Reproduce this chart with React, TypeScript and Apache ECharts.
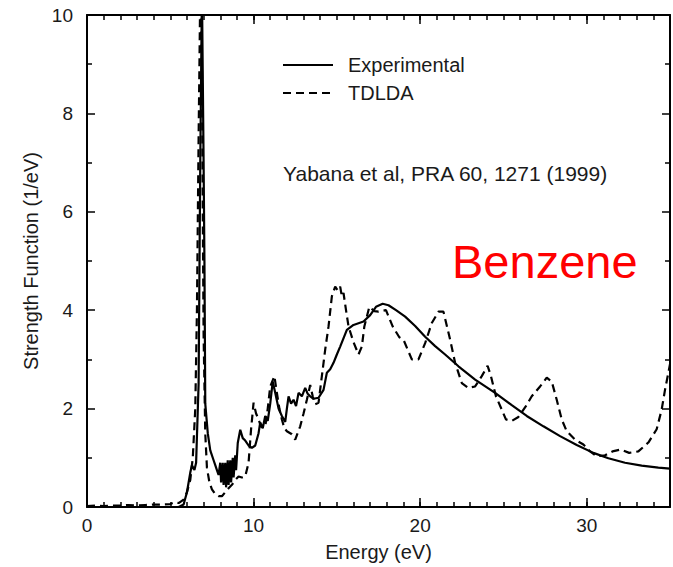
import React, { useEffect, useRef } from "react";
import * as echarts from "echarts";

// Experimental strength function (energy in eV, value in 1/eV)
const expEnergy = [
  0, 5.5, 5.8, 6.0, 6.2, 6.3, 6.45, 6.55, 6.7, 6.8, 6.9, 7.0, 7.05, 7.1, 7.25, 7.4, 7.6,
  7.7, 7.8, 7.9, 8.0, 8.05, 8.15, 8.2, 8.3, 8.35, 8.45, 8.5, 8.6, 8.65, 8.75, 8.8, 8.9,
  8.95, 9.05, 9.2, 9.35, 9.5, 9.7,
  9.9, 10.1, 10.3, 10.4, 10.55, 10.7, 10.85, 11.0, 11.15, 11.3, 11.5, 11.7, 11.9, 12.0,
  12.1, 12.25, 12.4, 12.55, 12.7, 12.9, 13.1, 13.25, 13.4, 13.6, 13.9, 14.2, 14.4, 14.6,
  14.8, 15.0, 15.2, 15.6, 16.0, 16.6, 17.0, 17.35, 17.75, 18.1, 18.55, 19.1, 19.7, 20.3,
  20.9, 21.5, 22.3, 23.3, 24.5, 25.5, 26.4, 27.4, 28.4, 29.4, 30.4, 31.3, 32.3, 33.3,
  34.3, 35,
];
const expValue = [
  0, 0, 0.05, 0.3, 0.7, 0.85, 0.75, 0.9, 2.5, 7, 10.5, 7, 5, 2.1, 1.5, 1.15, 0.95,
  0.85, 0.75, 0.65, 0.9, 0.5, 0.9, 0.45, 0.9, 0.4, 0.95, 0.45, 0.95, 0.5, 1.0, 0.6, 1.05,
  0.75, 1.3, 1.57, 1.4, 1.35, 1.25,
  1.2, 1.25, 1.5, 1.72, 1.6, 1.85, 1.75, 2.1, 2.55, 2.32, 2.0, 1.85, 1.73, 2.0,
  2.25, 2.1, 2.18, 2.05, 2.32, 2.25, 2.42, 2.3, 2.25, 2.2, 2.22, 2.38, 2.73, 2.8,
  2.93, 3.1, 3.26, 3.6, 3.7, 3.77, 3.9, 4.07, 4.13, 4.1, 4.0, 3.87, 3.68, 3.46,
  3.27, 3.1, 2.86, 2.59, 2.32, 2.07, 1.85, 1.64, 1.44, 1.26, 1.1, 0.99, 0.9, 0.84,
  0.8, 0.78,
];

// TDLDA calculation
const tdldaEnergy = [
  0, 0.5, 1, 1.5, 2, 2.5, 3, 3.5, 4, 4.5, 5, 5.3, 5.5, 5.8, 6.0, 6.2, 6.35, 6.5, 6.6,
  6.7, 6.8, 6.9, 6.95, 7.0, 7.1, 7.2, 7.35, 7.5, 7.7, 7.9, 8.1, 8.3, 8.5, 8.7, 8.9, 9.1,
  9.3, 9.5, 9.7, 9.85, 10.0, 10.15, 10.3, 10.45, 10.7, 10.85, 11.0, 11.25, 11.4, 11.55,
  11.7, 11.85, 12.0, 12.3, 12.5, 12.8, 13.0, 13.2, 13.4, 13.55, 13.7, 13.9, 14.1, 14.3,
  14.5, 14.7, 14.9, 15.05, 15.2, 15.3, 15.4, 15.55, 15.7, 16.0, 16.3, 16.5, 16.65, 16.95,
  17.25, 17.5, 17.95, 18.35, 18.75, 19.0, 19.5, 19.9, 20.3, 20.7, 21.1, 21.4, 21.8, 22.1,
  22.5, 22.9, 23.3, 23.7, 24.05, 24.25, 24.55, 24.9, 25.15, 25.5, 25.9, 26.35, 26.7, 27.2,
  27.6, 27.9, 28.2, 28.5, 28.8, 29.3, 29.8, 30.2, 30.6, 31.1, 31.55, 32.05, 32.55, 33.1,
  33.7, 34.2, 34.5, 34.7, 35,
];
const tdldaValue = [
  0.02, 0.03, 0.02, 0.03, 0.03, 0.04, 0.03, 0.04, 0.05, 0.05, 0.06, 0.1, 0.08, 0.15, 0.3,
  0.55, 1.0, 2.0, 4, 7.5, 10.5, 9, 6, 3.5, 1.5, 0.8, 0.5, 0.36, 0.26, 0.22, 0.22, 0.3,
  0.38, 0.45, 0.55, 0.62, 0.6, 0.62, 0.9, 1.58, 2.12, 1.9, 1.78, 1.63, 1.63, 2.0, 2.45,
  2.66, 2.32, 2.0, 1.78, 1.6, 1.54, 1.48, 1.37, 1.64, 1.9, 2.18, 2.48, 2.25, 2.09, 2.12,
  2.66, 3.2, 3.67, 4.28, 4.48, 4.4, 4.48, 4.28, 4.35, 4.0, 3.67, 3.35, 3.1, 3.26, 3.67,
  4.07, 3.98, 3.97, 4.0, 3.67, 3.45, 3.4, 3.0, 3.0, 3.33, 3.74, 3.97, 3.97, 3.4, 2.93,
  2.52, 2.42, 2.45, 2.66, 2.87, 2.66, 2.25, 1.98, 1.78, 1.75, 1.83, 2.05, 2.25, 2.45,
  2.63, 2.55, 2.18, 1.78, 1.54, 1.37, 1.27, 1.13, 1.03, 1.05, 1.13, 1.17, 1.1, 1.13,
  1.31, 1.58, 1.98, 2.38, 2.9,
];

const xMin = 0;
const xMax = 35;
const yMin = 0;
const yMax = 10;
const seriesNames = ["Experimental", "TDLDA"];
const xTitle = "Energy (eV)";
const yTitle = "Strength Function (1/eV)";
const citation = "Yabana et al, PRA 60, 1271 (1999)";
const molecule = "Benzene";

const FONT = '"Liberation Sans", Arial, Helvetica, sans-serif';
const INK = "#1a1a1a";

export default function App() {
  const ref = useRef<HTMLDivElement>(null);

  useEffect(() => {
    if (!ref.current) return;
    const chart = echarts.init(ref.current, null, { renderer: "svg" });

    const expData = expEnergy.map((e, i) => [e, expValue[i]]);
    const tdData = tdldaEnergy.map((e, i) => [e, tdldaValue[i]]);

    const baseX = {
      type: "value" as const,
      min: xMin,
      max: xMax,
      splitLine: { show: false },
    };
    const baseY = {
      type: "value" as const,
      min: yMin,
      max: yMax,
      interval: 2,
      splitLine: { show: false },
    };
    const lineStyle = { color: "#000", width: 2 };

    chart.setOption({
      animation: false,
      backgroundColor: "#fff",
      textStyle: { fontFamily: FONT },
      grid: { left: 87, right: -4, top: 15, bottom: 59, containLabel: false },
      legend: {
        show: true,
        data: seriesNames,
        orient: "vertical",
        left: 282,
        top: 55,
        padding: 0,
        itemWidth: 50,
        itemHeight: 14,
        itemGap: 8,
        selectedMode: false,
        itemStyle: { opacity: 0 },
        textStyle: { fontSize: 20, color: INK, fontFamily: FONT, padding: [0, 0, 0, 10] },
      },
      xAxis: [
        {
          ...baseX,
          position: "bottom",
          interval: 10,
          axisLine: { show: true, onZero: false, lineStyle },
          axisTick: { show: true, inside: true, length: 9, lineStyle: { color: "#000", width: 1.5 } },
          axisLabel: {
            show: true,
            margin: 9,
            fontSize: 19,
            color: INK,
            fontFamily: FONT,
            formatter: (v: number) => (v % 10 === 0 ? String(v) : ""),
          },
          name: xTitle,
          nameLocation: "middle",
          nameGap: 35,
          nameTextStyle: { fontSize: 20, color: INK, fontFamily: FONT },
        },
        {
          ...baseX,
          position: "bottom",
          interval: 1,
          axisLine: { show: false, onZero: false },
          axisTick: { show: true, inside: true, length: 5, lineStyle: { color: "#000", width: 1.5 } },
          axisLabel: { show: false },
        },
        {
          ...baseX,
          position: "top",
          interval: 10,
          axisLine: { show: true, onZero: false, lineStyle },
          axisTick: { show: true, inside: true, length: 9, lineStyle: { color: "#000", width: 1.5 } },
          axisLabel: { show: false },
        },
        {
          ...baseX,
          position: "top",
          interval: 1,
          axisLine: { show: false, onZero: false },
          axisTick: { show: true, inside: true, length: 5, lineStyle: { color: "#000", width: 1.5 } },
          axisLabel: { show: false },
        },
      ],
      yAxis: [
        {
          ...baseY,
          position: "left",
          axisLine: { show: true, onZero: false, lineStyle },
          axisTick: { show: true, inside: true, length: 8, lineStyle: { color: "#000", width: 1.5 } },
          minorTick: { show: true, splitNumber: 2, length: 5, lineStyle: { color: "#000", width: 1.5 } },
          axisLabel: { show: true, margin: 14, fontSize: 19, color: INK, fontFamily: FONT },
          name: yTitle,
          nameLocation: "middle",
          nameGap: 44,
          nameTextStyle: { fontSize: 20, color: INK, fontFamily: FONT, padding: [0, 0, 0, 0] },
        },
        {
          ...baseY,
          position: "right",
          axisLine: { show: true, onZero: false, lineStyle },
          axisTick: { show: true, inside: true, length: 8, lineStyle: { color: "#000", width: 1.5 } },
          minorTick: { show: true, splitNumber: 2, length: 5, lineStyle: { color: "#000", width: 1.5 } },
          axisLabel: { show: false },
        },
      ],
      series: [
        {
          name: seriesNames[0],
          type: "line",
          xAxisIndex: 0,
          yAxisIndex: 0,
          data: expData,
          symbol: "none",
          clip: true,
          lineStyle: { color: "#000", width: 2.2, type: "solid" },
          itemStyle: { color: "#000" },
          z: 3,
        },
        {
          name: seriesNames[1],
          type: "line",
          xAxisIndex: 0,
          yAxisIndex: 0,
          data: tdData,
          symbol: "none",
          clip: true,
          lineStyle: { color: "#000", width: 2.2, type: [8, 5] },
          itemStyle: { color: "#000" },
          z: 4,
        },
      ],
      graphic: [
        {
          type: "text",
          x: 283,
          y: 173,
          style: {
            text: citation,
            fontSize: 21,
            fontFamily: FONT,
            fill: INK,
            verticalAlign: "middle",
          },
        },
        {
          type: "text",
          x: 452,
          y: 261,
          style: {
            text: molecule,
            fontSize: 47,
            fontFamily: FONT,
            fill: "#ff0000",
            verticalAlign: "middle",
          },
        },
      ],
    });

    return () => {
      chart.dispose();
    };
  }, []);

  return (
    <div
      ref={ref}
      style={{ position: "absolute", left: 0, top: 0, width: 673, height: 567, overflow: "hidden" }}
    />
  );
}
